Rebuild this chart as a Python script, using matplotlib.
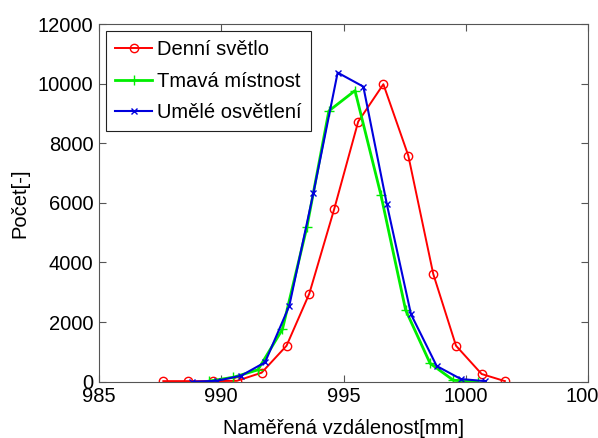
import matplotlib
matplotlib.use('Agg')
import matplotlib.pyplot as plt

plt.rcParams['font.family'] = ['Liberation Sans', 'DejaVu Sans']

# Denní světlo (red)
x_den = [987.63, 988.63, 989.65, 990.64, 991.65, 992.67, 993.6, 994.62, 995.6,
         996.63, 997.65, 998.67, 999.6, 1000.65, 1001.6]
y_den = [20, 20, 20, 30, 302, 1208, 2953, 5795, 8725, 9980, 7584, 3614, 1208, 258, 20]

# Tmavá místnost (green)
x_tma = [989.5, 990.5, 991.5, 992.5, 993.5, 994.4, 995.47, 996.53, 997.54,
         998.54, 999.49, 1000.49]
y_tma = [20, 150, 400, 1758, 5181, 9084, 9765, 6265, 2406, 617, 50, 0]

# Umělé osvětlení (blue)
x_ume = [988.82, 989.81, 990.81, 991.79, 992.78, 993.77, 994.76, 995.81, 996.77,
         997.76, 998.81, 999.8, 1000.79]
y_ume = [0, 30, 201, 651, 2540, 6342, 10369, 9900, 5963, 2262, 527, 90, 20]

fs = 14.5

fig = plt.figure(figsize=(5.98, 4.38), dpi=100)
ax = fig.add_axes([0.1656, 0.1285, 0.8177, 0.8167])

ax.plot(x_den, y_den, color='red', marker='o', markersize=6, markerfacecolor='none',
        markeredgecolor='red', linewidth=1.4, label='Denní světlo')
ax.plot(x_tma, y_tma, color='#00ee00', marker='+', markersize=7, linewidth=2.0,
        label='Tmavá místnost')
ax.plot(x_ume, y_ume, color='#0000dd', marker='x', markersize=4, linewidth=1.5,
        label='Umělé osvětlení')

ax.set_xlim(985, 1005)
ax.set_ylim(0, 12000)
ax.set_xticks([985, 990, 995, 1000, 1005])
ax.set_yticks(range(0, 12001, 2000))
ax.tick_params(direction='in', top=True, right=True, labelsize=fs, length=5,
               color='#555555', pad=4)
for s in ax.spines.values():
    s.set_color('#555555')

ax.set_xlabel('Naměřená vzdálenost[mm]', fontsize=fs, labelpad=9)
ax.set_ylabel('Počet[-]', fontsize=fs, labelpad=6)

leg = ax.legend(loc='upper left', fontsize=fs, fancybox=False, framealpha=1,
                edgecolor='#222222', handlelength=1.85, handletextpad=0.25,
                borderpad=0.45, labelspacing=0.62, borderaxespad=0.35)
leg.get_frame().set_linewidth(0.8)

fig.savefig('out.png', dpi=100)
